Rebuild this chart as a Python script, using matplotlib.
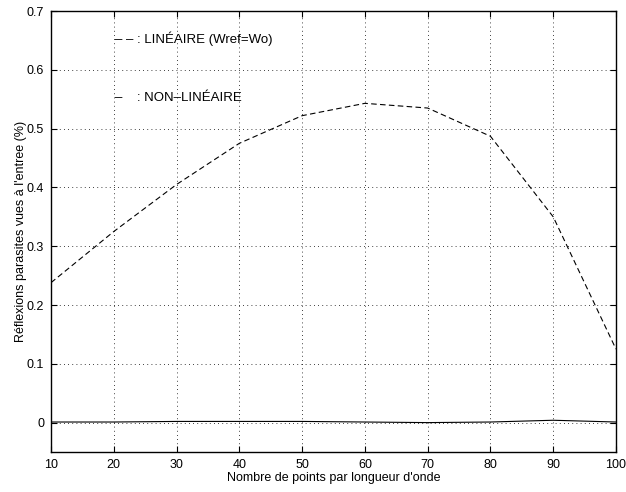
import matplotlib
matplotlib.use("Agg")
import matplotlib.pyplot as plt

# points per wavelength
npts = [10, 20, 30, 40, 50, 60, 70, 80, 90, 100]
# parasitic reflections (%)
lineaire = [0.238, 0.325, 0.405, 0.475, 0.522, 0.543, 0.535, 0.487, 0.350, 0.125]
non_lineaire = [0.001, 0.001, 0.002, 0.002, 0.002, 0.001, 0.0, 0.001, 0.004, 0.001]

xticks = [10, 20, 30, 40, 50, 60, 70, 80, 90, 100]
yticks = [0, 0.1, 0.2, 0.3, 0.4, 0.5, 0.6, 0.7]

plt.rcParams['font.family'] = ['Liberation Sans', 'DejaVu Sans']
plt.rcParams['font.size'] = 9

fig = plt.figure(figsize=(6.26, 4.92), dpi=100)
ax = fig.add_axes([0.0815, 0.0813, 0.9025, 0.8963])

ax.plot(npts, lineaire, 'k--', lw=0.8, dashes=(5, 3))
ax.plot(npts, non_lineaire, 'k-', lw=0.8)

ax.text(20.2, 0.652, '– – : LINÉAIRE (Wref=Wo)', va='center', fontsize=9.5)
ax.text(20.2, 0.552, '–    : NON–LINÉAIRE', va='center', fontsize=9.5)

ax.set_xlim(10, 100)
ax.set_ylim(-0.05, 0.7)
ax.set_xticks(xticks)
ax.set_yticks(yticks)
ax.set_yticklabels(['0', '0.1', '0.2', '0.3', '0.4', '0.5', '0.6', '0.7'])
ax.tick_params(direction='in', top=True, right=True, length=4, width=0.8, pad=5)
ax.grid(True, linestyle=(0, (1, 4)), color='k', lw=0.6)
for s in ax.spines.values():
    s.set_linewidth(1.0)

ax.set_xlabel("Nombre de points par longueur d'onde", labelpad=1)
ax.set_ylabel("Réflexions parasites vues à l'entree (%)", labelpad=0)

fig.savefig("out.png", dpi=100)
